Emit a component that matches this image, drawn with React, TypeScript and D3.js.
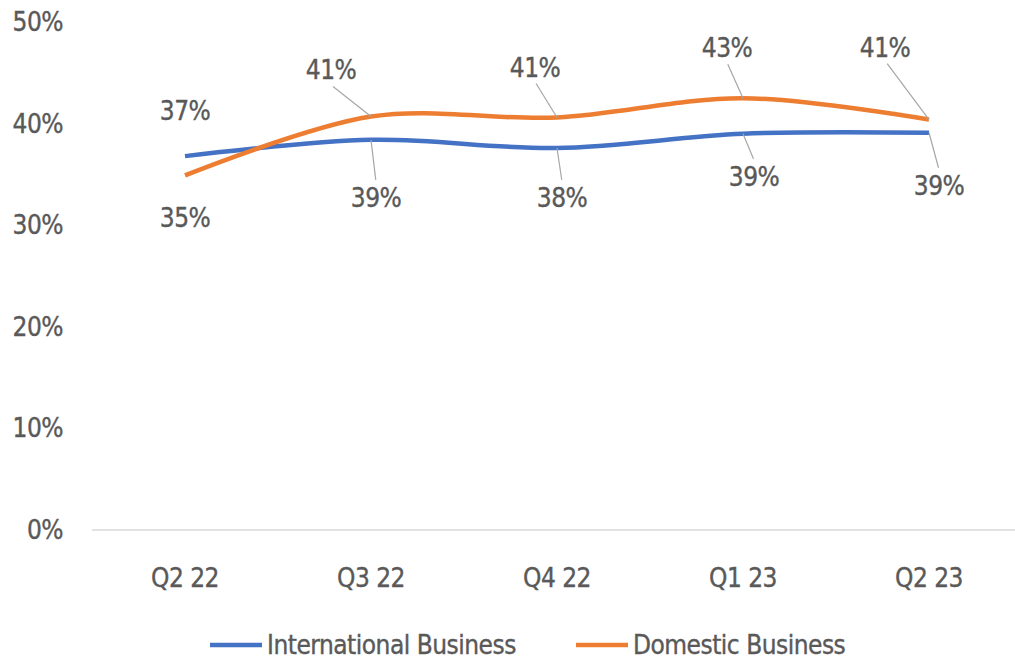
import React from "react";
import * as d3 from "d3";

const categories = ["Q2 22", "Q3 22", "Q4 22", "Q1 23", "Q2 23"];
const international = [36.8, 38.4, 37.6, 39.0, 39.1];
const domestic = [34.9, 40.7, 40.6, 42.5, 40.4];
const internationalLabels = ["37%", "39%", "38%", "39%", "39%"];
const domesticLabels = ["35%", "41%", "41%", "43%", "41%"];
const yTicks = [0, 10, 20, 30, 40, 50];
const seriesNames = ["International Business", "Domestic Business"];

const W = 1015;
const H = 664;
const FONT = "'Liberation Sans Narrow', 'DejaVu Sans Condensed', 'Liberation Sans', sans-serif";
const TEXT = "#595959";
const BLUE = "#4472C4";
const ORANGE = "#ED7D31";
const FS = 26;
const LS = -0.5;

const intLabelOffsets: [number, number, boolean][] = [
  [0, -45, false],
  [5, 58, true],
  [5, 50, true],
  [11, 43, true],
  [10, 53, true],
];
const domLabelOffsets: [number, number, boolean][] = [
  [0, 43, false],
  [-40, -46, true],
  [-22, -50, true],
  [-16, -50, true],
  [-44, -72, true],
];

const textProps = {
  fontSize: FS,
  fill: TEXT,
  fontFamily: FONT,
  letterSpacing: LS,
  stroke: TEXT,
  strokeWidth: 0.35,
};

export default function App() {
  const x = d3.scalePoint<string>().domain(categories).range([92, 1022]).padding(0.5);
  const y = d3.scaleLinear().domain([0, 50]).range([530, 22]);
  const line = d3
    .line<number>()
    .x((_, i) => x(categories[i]) as number)
    .y((d) => y(d))
    .curve(d3.curveCatmullRom.alpha(0.5));

  const renderLabels = (
    vals: number[],
    labels: string[],
    offs: [number, number, boolean][]
  ) =>
    vals.map((v, i) => {
      const px = x(categories[i]) as number;
      const py = y(v);
      const [dx, dy, leader] = offs[i];
      const lx = px + dx;
      const ly = py + dy;
      const ey = dy < 0 ? ly + 16 : ly - 18;
      const ex = lx + (px - lx) * 0.05;
      return (
        <g key={i}>
          {leader && (
            <line x1={ex} y1={ey} x2={px} y2={py} stroke="#A6A6A6" strokeWidth={1.2} />
          )}
          <text x={lx} y={ly} textAnchor="middle" dominantBaseline="central" {...textProps}>
            {labels[i]}
          </text>
        </g>
      );
    });

  return (
    <svg
      width={W}
      height={H}
      style={{ position: "absolute", left: 0, top: 0, background: "#fff" }}
    >
      <line x1={92} x2={1015} y1={y(0)} y2={y(0)} stroke="#D9D9D9" strokeWidth={1.5} />
      {yTicks.map((t) => (
        <text key={t} x={63} y={y(t)} textAnchor="end" dominantBaseline="central" {...textProps}>
          {t}%
        </text>
      ))}
      {categories.map((c) => (
        <text
          key={c}
          x={x(c) as number}
          y={578}
          textAnchor="middle"
          dominantBaseline="central"
          {...textProps}
        >
          {c}
        </text>
      ))}
      <path d={line(international) || ""} fill="none" stroke={BLUE} strokeWidth={4.5} />
      <path d={line(domestic) || ""} fill="none" stroke={ORANGE} strokeWidth={4.5} />
      {renderLabels(international, internationalLabels, intLabelOffsets)}
      {renderLabels(domestic, domesticLabels, domLabelOffsets)}
      <g>
        <line x1={210} x2={262} y1={645} y2={645} stroke={BLUE} strokeWidth={4.5} />
        <text x={267} y={645} dominantBaseline="central" {...textProps}>
          {seriesNames[0]}
        </text>
        <line x1={576} x2={628} y1={645} y2={645} stroke={ORANGE} strokeWidth={4.5} />
        <text x={633} y={645} dominantBaseline="central" {...textProps}>
          {seriesNames[1]}
        </text>
      </g>
    </svg>
  );
}
